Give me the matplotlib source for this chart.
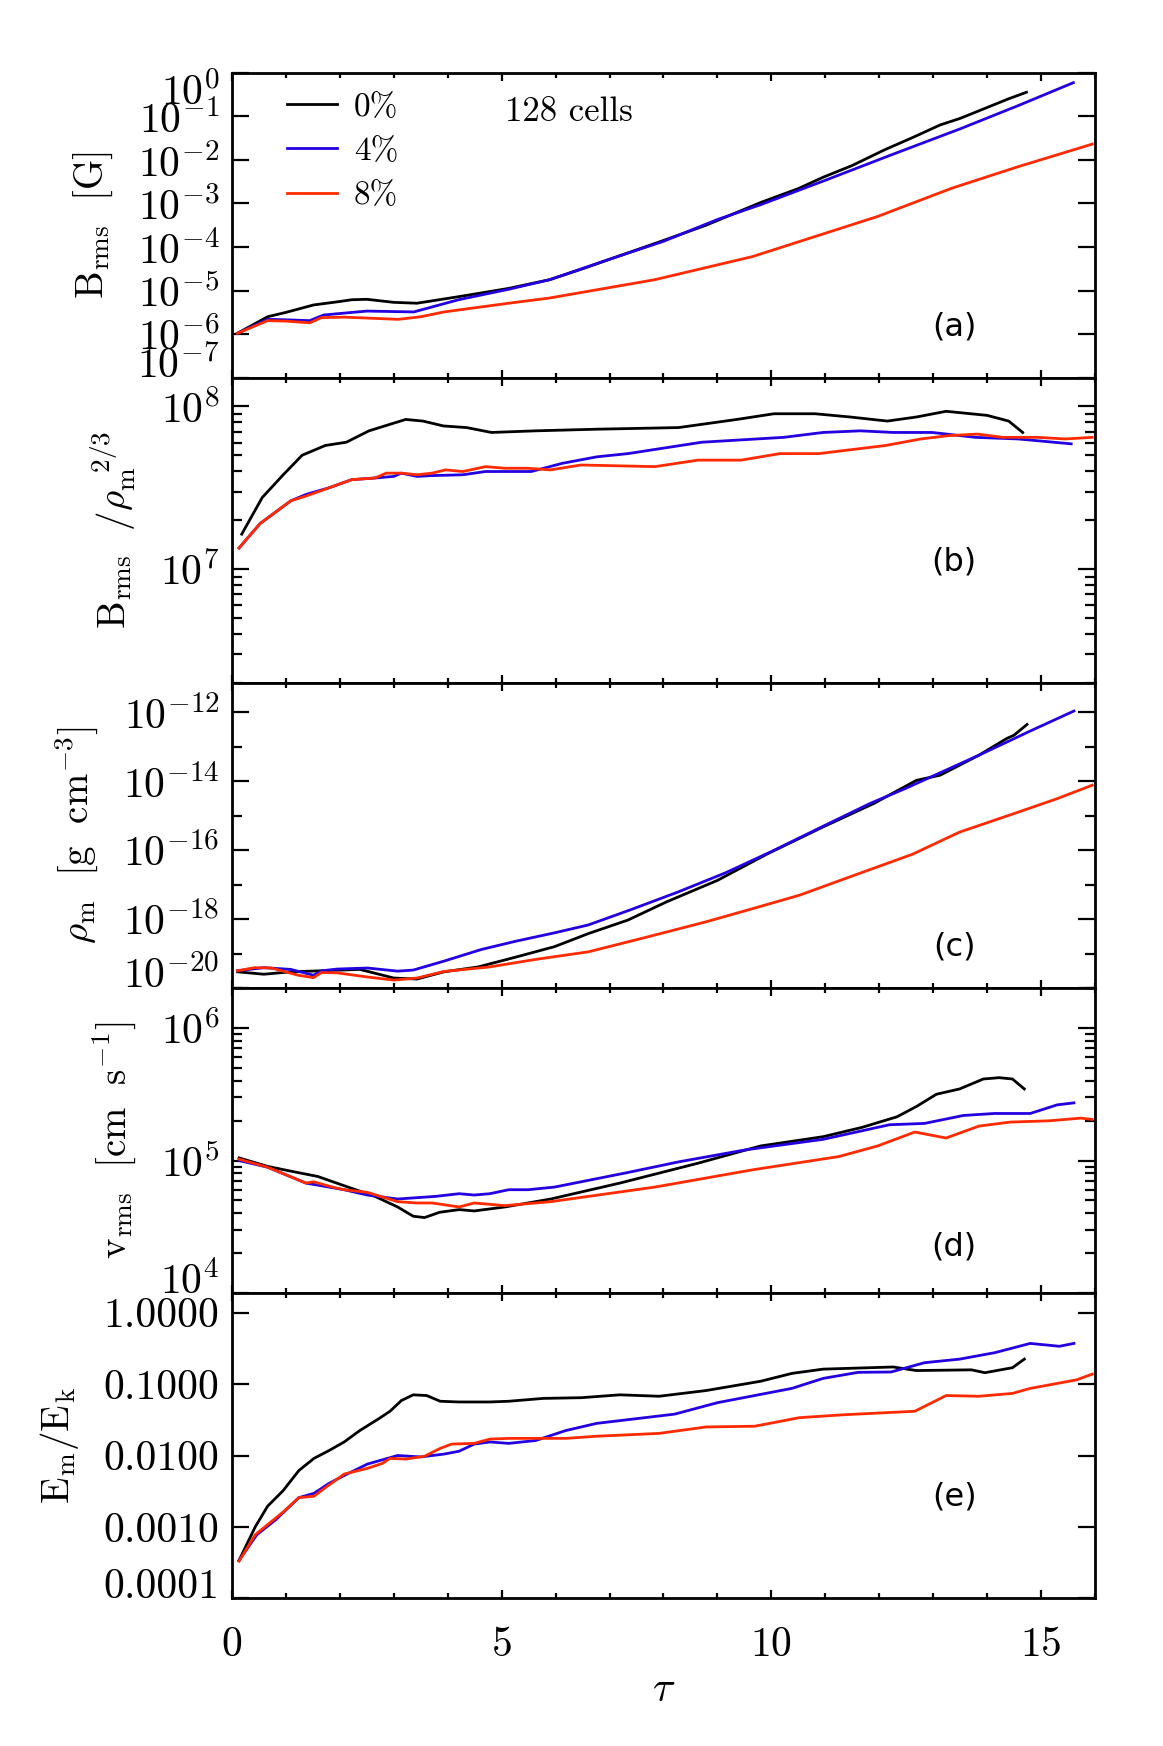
import numpy as np
import matplotlib
matplotlib.use('Agg')
import matplotlib.pyplot as plt
from matplotlib.ticker import (FixedLocator, NullLocator, NullFormatter, LogLocator,
                               LogFormatterMathtext, FormatStrFormatter, MultipleLocator)
from matplotlib.lines import Line2D

plt.rcParams['font.family'] = 'serif'
plt.rcParams['font.serif'] = ['cmr10', 'DejaVu Serif']
plt.rcParams['mathtext.fontset'] = 'cm'
plt.rcParams['axes.formatter.use_mathtext'] = True

runs = ['0%', '4%', '8%']
colors = ['black', '#2200e0', '#ff2a00']

# (a) log10 B_rms [G]
a_tau_0 = [0.1, 0.66, 1.0, 1.51, 2.0, 2.22, 2.5, 3.0, 3.43, 4.2, 5.13, 5.89, 6.5, 7.33, 8.0, 8.79, 9.8, 10.5, 10.96, 11.5, 12.1, 12.6, 13.13, 13.5, 14.0, 14.4, 14.73]
a_log_0 = [-5.98, -5.6, -5.5, -5.33, -5.25, -5.21, -5.2, -5.27, -5.29, -5.14, -4.95, -4.75, -4.5, -4.14, -3.85, -3.5, -2.98, -2.66, -2.4, -2.13, -1.77, -1.5, -1.2, -1.05, -0.8, -0.6, -0.45]
a_tau_4 = [0.1, 0.66, 1.0, 1.44, 1.7, 2.5, 3.37, 4.2, 5.13, 5.89, 7.0, 8.0, 9.0, 9.8, 11.0, 12.26, 13.5, 14.57, 15.6]
a_log_4 = [-5.98, -5.66, -5.67, -5.69, -5.56, -5.47, -5.49, -5.21, -4.97, -4.75, -4.28, -3.87, -3.37, -3.03, -2.47, -1.87, -1.29, -0.76, -0.23]
a_tau_8 = [0.1, 0.66, 1.0, 1.44, 1.66, 2.08, 2.5, 3.08, 3.5, 3.93, 5.13, 5.89, 7.84, 9.65, 11.97, 13.35, 14.57, 15.95]
a_log_8 = [-5.98, -5.69, -5.7, -5.74, -5.62, -5.61, -5.63, -5.66, -5.6, -5.49, -5.29, -5.17, -4.75, -4.22, -3.3, -2.65, -2.16, -1.64]

# (b) log10 B_rms / rho_m^(2/3)
b_tau_0 = [0.18, 0.56, 0.95, 1.3, 1.73, 2.12, 2.54, 3.22, 3.54, 3.92, 4.35, 4.81, 5.63, 6.76, 8.28, 9.36, 10.05, 10.81, 11.46, 12.15, 12.69, 13.24, 14.0, 14.4, 14.66]
b_log_0 = [7.215, 7.44, 7.58, 7.70, 7.76, 7.78, 7.85, 7.92, 7.91, 7.88, 7.87, 7.84, 7.85, 7.86, 7.87, 7.92, 7.955, 7.955, 7.935, 7.91, 7.935, 7.97, 7.945, 7.91, 7.84]
b_tau_4 = [0.13, 0.52, 1.09, 1.38, 1.8, 2.22, 2.65, 3.0, 3.14, 3.43, 3.71, 4.28, 4.7, 5.06, 5.55, 6.12, 6.76, 7.34, 8.71, 10.23, 10.96, 11.65, 12.26, 12.98, 13.78, 14.58, 15.56]
b_log_4 = [7.13, 7.28, 7.42, 7.46, 7.50, 7.55, 7.56, 7.57, 7.59, 7.57, 7.575, 7.58, 7.60, 7.60, 7.60, 7.65, 7.69, 7.71, 7.78, 7.81, 7.84, 7.85, 7.84, 7.84, 7.81, 7.80, 7.77]
b_tau_8 = [0.13, 0.52, 1.09, 1.38, 1.8, 2.22, 2.65, 2.86, 3.14, 3.43, 3.71, 3.96, 4.28, 4.7, 5.06, 5.48, 5.9, 6.47, 7.84, 8.64, 9.44, 10.16, 10.88, 12.12, 12.77, 13.27, 13.82, 14.29, 14.94, 15.45, 15.95]
b_log_8 = [7.13, 7.28, 7.42, 7.45, 7.50, 7.55, 7.56, 7.59, 7.59, 7.58, 7.59, 7.61, 7.60, 7.63, 7.62, 7.62, 7.61, 7.64, 7.63, 7.67, 7.67, 7.71, 7.71, 7.76, 7.80, 7.82, 7.83, 7.81, 7.81, 7.80, 7.81]

# (c) log10 rho_m [g cm^-3]
c_tau_0 = [0.1, 0.59, 1.09, 1.66, 2.37, 3.0, 3.43, 3.93, 4.56, 5.27, 5.98, 6.61, 7.34, 8.06, 9.0, 9.94, 10.96, 11.9, 12.69, 13.13, 13.85, 14.36, 14.5, 14.74]
c_log_0 = [-19.53, -19.6, -19.53, -19.5, -19.46, -19.71, -19.74, -19.53, -19.39, -19.1, -18.8, -18.42, -18.03, -17.5, -16.88, -16.1, -15.33, -14.65, -13.98, -13.83, -13.25, -12.77, -12.67, -12.36]
c_tau_4 = [0.1, 0.59, 1.09, 1.51, 1.66, 1.95, 2.51, 3.07, 3.36, 3.93, 4.63, 5.27, 5.98, 6.61, 7.41, 8.28, 9.15, 10.02, 10.96, 11.83, 12.48, 13.85, 14.8, 15.61]
c_log_4 = [-19.5, -19.41, -19.46, -19.63, -19.5, -19.45, -19.42, -19.51, -19.48, -19.22, -18.88, -18.64, -18.4, -18.17, -17.72, -17.21, -16.66, -16.03, -15.31, -14.65, -14.22, -13.25, -12.55, -11.97]
c_tau_8 = [0.1, 0.42, 0.73, 1.23, 1.51, 1.66, 1.95, 2.51, 3.0, 3.43, 3.93, 4.77, 5.63, 6.61, 7.7, 8.79, 9.65, 10.52, 11.54, 12.62, 13.49, 14.58, 15.3, 15.95]
c_log_8 = [-19.5, -19.41, -19.42, -19.63, -19.7, -19.55, -19.56, -19.68, -19.77, -19.71, -19.52, -19.39, -19.17, -18.95, -18.52, -18.08, -17.7, -17.31, -16.73, -16.12, -15.48, -14.9, -14.51, -14.12]

# (d) log10 v_rms [cm s^-1]
d_tau_0 = [0.13, 0.66, 1.09, 1.59, 2.08, 2.65, 3.07, 3.36, 3.57, 3.85, 4.21, 4.49, 5.06, 5.91, 7.19, 8.64, 9.8, 10.96, 11.68, 12.33, 12.7, 13.06, 13.49, 13.93, 14.22, 14.47, 14.69]
d_log_0 = [5.02, 4.956, 4.92, 4.88, 4.81, 4.73, 4.65, 4.58, 4.57, 4.61, 4.63, 4.62, 4.65, 4.71, 4.83, 4.98, 5.11, 5.18, 5.25, 5.33, 5.41, 5.50, 5.54, 5.615, 5.625, 5.615, 5.54]
d_tau_4 = [0.13, 0.66, 1.37, 2.08, 2.51, 3.07, 3.78, 4.21, 4.49, 4.78, 5.13, 5.49, 5.98, 7.34, 8.28, 9.51, 10.96, 12.19, 12.84, 13.56, 14.14, 14.8, 15.3, 15.61]
d_log_4 = [5.0, 4.95, 4.83, 4.78, 4.74, 4.71, 4.73, 4.75, 4.74, 4.75, 4.78, 4.78, 4.80, 4.91, 4.99, 5.08, 5.16, 5.27, 5.28, 5.34, 5.355, 5.355, 5.42, 5.435]
d_tau_8 = [0.13, 0.66, 1.37, 1.51, 1.86, 2.08, 2.51, 3.07, 3.43, 3.71, 4.21, 4.49, 5.06, 5.91, 7.84, 9.65, 11.25, 11.97, 12.66, 13.24, 13.85, 14.43, 15.16, 15.74, 15.95]
d_log_8 = [5.01, 4.95, 4.83, 4.84, 4.80, 4.78, 4.76, 4.69, 4.68, 4.68, 4.65, 4.68, 4.66, 4.69, 4.80, 4.93, 5.03, 5.11, 5.215, 5.17, 5.26, 5.29, 5.30, 5.32, 5.31]

# (e) log10 E_m/E_k
e_tau_0 = [0.13, 0.43, 0.66, 0.95, 1.24, 1.52, 1.8, 2.08, 2.37, 2.73, 2.93, 3.14, 3.36, 3.61, 3.86, 4.2, 4.78, 5.13, 5.77, 6.48, 7.19, 7.92, 8.79, 9.8, 10.38, 10.96, 12.26, 12.69, 13.71, 13.96, 14.47, 14.69]
e_log_0 = [-3.47, -3.0, -2.71, -2.49, -2.21, -2.04, -1.93, -1.81, -1.65, -1.48, -1.38, -1.23, -1.15, -1.16, -1.24, -1.25, -1.25, -1.24, -1.20, -1.19, -1.15, -1.17, -1.09, -0.96, -0.85, -0.79, -0.76, -0.81, -0.80, -0.84, -0.77, -0.65]
e_tau_4 = [0.13, 0.46, 0.81, 1.24, 1.52, 1.8, 2.08, 2.51, 3.07, 3.5, 3.93, 4.21, 4.49, 4.78, 5.13, 5.63, 6.19, 6.76, 8.21, 9.0, 10.38, 10.96, 11.61, 12.22, 12.84, 13.49, 14.14, 14.8, 15.34, 15.61]
e_log_4 = [-3.47, -3.11, -2.9, -2.59, -2.53, -2.39, -2.28, -2.12, -2.0, -2.02, -1.98, -1.94, -1.84, -1.81, -1.83, -1.79, -1.65, -1.55, -1.42, -1.26, -1.06, -0.92, -0.835, -0.83, -0.70, -0.65, -0.56, -0.43, -0.47, -0.43]
e_tau_8 = [0.13, 0.43, 0.95, 1.24, 1.52, 1.73, 2.08, 2.51, 2.79, 2.93, 3.22, 3.57, 3.86, 4.07, 4.49, 4.78, 5.13, 5.77, 6.19, 6.76, 7.92, 8.79, 9.69, 10.52, 11.32, 12.66, 13.24, 13.85, 14.47, 14.8, 15.66, 15.95]
e_log_8 = [-3.48, -3.11, -2.79, -2.59, -2.57, -2.45, -2.26, -2.18, -2.11, -2.04, -2.05, -2.01, -1.90, -1.84, -1.83, -1.77, -1.76, -1.76, -1.76, -1.73, -1.69, -1.60, -1.59, -1.47, -1.43, -1.38, -1.16, -1.17, -1.13, -1.06, -0.94, -0.86]

panels = [
    [(a_tau_0, a_log_0), (a_tau_4, a_log_4), (a_tau_8, a_log_8)],
    [(b_tau_0, b_log_0), (b_tau_4, b_log_4), (b_tau_8, b_log_8)],
    [(c_tau_0, c_log_0), (c_tau_4, c_log_4), (c_tau_8, c_log_8)],
    [(d_tau_0, d_log_0), (d_tau_4, d_log_4), (d_tau_8, d_log_8)],
    [(e_tau_0, e_log_0), (e_tau_4, e_log_4), (e_tau_8, e_log_8)],
]
ylabels = [r'$\mathrm{B_{rms}}\ \ [\mathrm{G}]$',
           r'$\mathrm{B_{rms}}\ \ /\rho_\mathrm{m}^{\ \ 2/3}$',
           r'$\rho_\mathrm{m}\ \ [\mathrm{g\ \ cm^{-3}}]$',
           r'$\mathrm{v_{rms}}\ \ [\mathrm{cm\ \ s^{-1}}]$',
           r'$\mathrm{E_m/E_k}$']
ylims = [(1e-7, 1.0), (2e6, 1.5e8), (1e-20, 7e-12), (1e4, 2e6), (1e-4, 1.88)]
tags = ['(a)', '(b)', '(c)', '(d)', '(e)']
tag_y = [0.166, 0.397, 0.136, 0.151, 0.332]

fig, axes = plt.subplots(5, 1, sharex=True, figsize=(11.63, 17.46), dpi=100,
                         gridspec_kw=dict(hspace=0))
fig.subplots_adjust(left=0.1995, right=0.9415, top=0.9584, bottom=0.0846)

for i, ax in enumerate(axes):
    for (t, lv), c in zip(panels[i], colors):
        ax.plot(t, np.power(10.0, lv), color=c, lw=2.0)
    ax.set_yscale('log')
    ax.set_ylim(*ylims[i])
    ax.set_xlim(0, 16)
    ax.set_ylabel(ylabels[i], fontsize=28, labelpad=16)
    ax.text(0.837, tag_y[i], tags[i], transform=ax.transAxes, ha='center', va='center',
            fontsize=23, family='DejaVu Sans')
    for s in ax.spines.values():
        s.set_linewidth(2.0)
    ax.tick_params(which='both', direction='in', top=True, right=True, width=1.6)
    ax.tick_params(axis='y', which='major', length=12, pad=9, labelsize=30)
    ax.tick_params(axis='y', which='minor', length=7)
    ax.tick_params(axis='x', which='major', length=6, pad=20, labelsize=30)
    ax.tick_params(axis='x', which='minor', length=3.5)
    ax.xaxis.set_major_locator(MultipleLocator(5))
    ax.xaxis.set_minor_locator(MultipleLocator(1))

# y tick setups
axes[0].yaxis.set_major_locator(FixedLocator(10.0 ** np.arange(-7, 1)))
axes[0].yaxis.set_minor_locator(NullLocator())
axes[0].yaxis.set_major_formatter(LogFormatterMathtext())
axes[1].yaxis.set_major_locator(LogLocator(base=10))
axes[1].yaxis.set_minor_locator(LogLocator(base=10, subs=np.arange(2, 10)))
axes[1].yaxis.set_minor_formatter(NullFormatter())
axes[2].yaxis.set_major_locator(FixedLocator(10.0 ** np.arange(-20, -11, 2)))
axes[2].yaxis.set_minor_locator(FixedLocator(10.0 ** np.arange(-19, -11, 2)))
axes[2].yaxis.set_major_formatter(LogFormatterMathtext())
axes[2].yaxis.set_minor_formatter(NullFormatter())
axes[3].yaxis.set_major_locator(LogLocator(base=10))
axes[3].yaxis.set_minor_locator(LogLocator(base=10, subs=np.arange(2, 10)))
axes[3].yaxis.set_minor_formatter(NullFormatter())
axes[4].yaxis.set_major_locator(FixedLocator(10.0 ** np.arange(-4, 1)))
axes[4].yaxis.set_minor_locator(LogLocator(base=10, subs=np.arange(2, 10)))
axes[4].yaxis.set_major_formatter(FormatStrFormatter('%.4f'))
axes[4].yaxis.set_minor_formatter(NullFormatter())

axes[4].set_xlabel(r'$\tau$', fontsize=30, labelpad=6)
axes[4].set_xticks([0, 5, 10, 15])

# legend and annotation in panel (a)
handles = [Line2D([], [], color=c, lw=2.0) for c in colors]
axes[0].legend(handles, runs, loc='upper left', bbox_to_anchor=(0.064, 0.935), frameon=False,
               fontsize=24, handlelength=1.5, handletextpad=0.5, labelspacing=0.45,
               borderaxespad=0, borderpad=0)
axes[0].text(0.316, 0.872, '128 cells', transform=axes[0].transAxes, va='center', fontsize=25)

# keep edge labels inside the panel, as in the original
fig.canvas.draw()
for ax in axes:
    lo, hi = ax.get_ylim()
    for tk in ax.yaxis.get_major_ticks():
        loc = tk.get_loc()
        if abs(np.log10(loc) - np.log10(lo)) < 0.02:
            tk.label1.set_verticalalignment('baseline')
        elif abs(np.log10(loc) - np.log10(hi)) < 0.02:
            tk.label1.set_verticalalignment('top')

fig.savefig('out.png', dpi=100)
